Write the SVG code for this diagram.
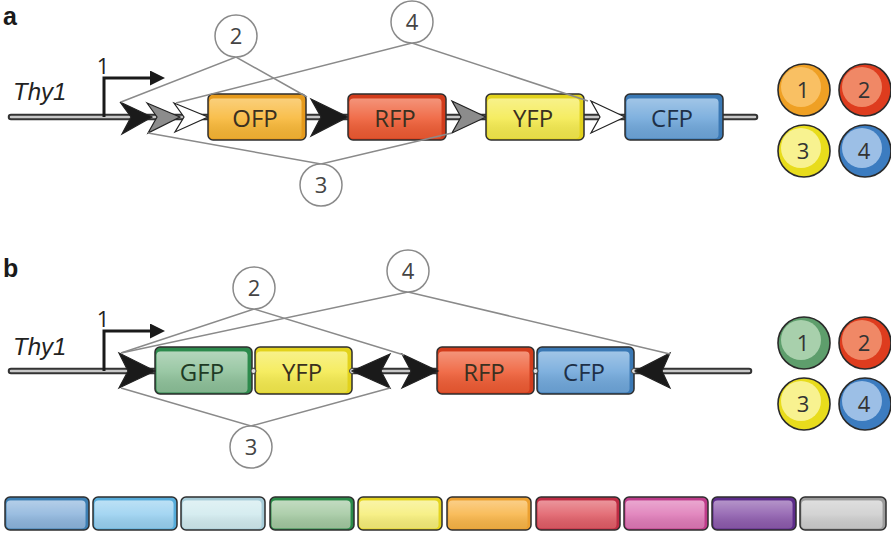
<svg xmlns="http://www.w3.org/2000/svg" width="891" height="535" viewBox="0 0 891 535">
<defs>
<linearGradient id="shine" x1="0" y1="0" x2="0" y2="1">
<stop offset="0" stop-color="#fff" stop-opacity="0.35"/>
<stop offset="0.5" stop-color="#fff" stop-opacity="0.12"/>
<stop offset="1" stop-color="#000" stop-opacity="0.06"/>
</linearGradient>
<marker id="prom" viewBox="0 0 10 10" refX="2" refY="5" markerWidth="5" markerHeight="5" orient="auto" markerUnits="strokeWidth">
<path d="M0,0 L10,5 L0,10 z" fill="#1a1a1a"/>
</marker>
</defs>
<style>
.lbl{font-family:"Liberation Sans",Arial,sans-serif;font-weight:bold;font-size:25px;fill:#1a1a1a}
.thy{font-family:"Liberation Sans",Arial,sans-serif;font-style:italic;font-size:24px;fill:#222}
.num{font-family:"Open Sans","Liberation Sans",sans-serif;font-size:22px;fill:#444;text-anchor:middle}
.gene{font-family:"Open Sans","Liberation Sans",sans-serif;font-size:24px;fill:#3a3020;text-anchor:middle}
.bb1{stroke:#333;stroke-width:6.5;stroke-linecap:round;fill:none}
.bb2{stroke:#c8c8c8;stroke-width:2.5;stroke-linecap:round;fill:none}
.prom{stroke:#1a1a1a;stroke-width:3;fill:none}
.con{stroke:#8a8a8a;stroke-width:1.5;fill:none}
.circ{fill:#fff;stroke:#8a8a8a;stroke-width:1.5}
.box{stroke:#2e2e2e;stroke-width:1.5}
.sh{fill:url(#shine)}
.chev{stroke:#222;stroke-width:1.2;stroke-linejoin:miter}
.dot{fill:#e0e0e0;stroke:#444;stroke-width:1}
.cc{stroke:#2a2a2a;stroke-width:1.6}
</style>

<!-- Panel a -->
<g id="label-a"><text class="lbl" x="3" y="25">a</text></g>
<g id="a-backbone">
<line class="bb1" x1="11" y1="117" x2="755" y2="117"/>
<line class="bb2" x1="11" y1="117" x2="755" y2="117"/>
</g>
<g id="a-thy1"><text class="thy" x="13" y="100">Thy1</text></g>
<g id="a-promoter">
<path class="prom" d="M104,117 V78 H153" marker-end="url(#prom)"/>
<text class="num" x="103" y="74" style="fill:#222">1</text>
</g>
<g id="a-lox">
<path class="chev" d="M120,102 L152,117 L122,134 L131,117 z" fill="#1a1a1a"/>
<path class="chev" d="M147,103 L180,117 L148,133 L157,117 z" fill="#8c8c8c"/>
<path class="chev" d="M174,103 L208,117 L175,132 L184,117 z" fill="#fff"/>
<path class="chev" d="M311,99 L348,117 L311,136 L321,117 z" fill="#1a1a1a"/>
<path class="chev" d="M452,101 L486,117 L452,133 L461,117 z" fill="#8c8c8c"/>
<path class="chev" d="M591,101 L625,117 L591,133 L600,117 z" fill="#fff"/>
</g>
<g id="a-OFP">
<rect class="box" x="208" y="94" width="98" height="46" rx="5" fill="#e69a1c"/>
<rect x="209.5" y="98.5" width="92" height="40" rx="4" fill="#f8b634"/>
<rect class="sh" x="209.5" y="98.5" width="92" height="40" rx="4"/>
<text class="gene" x="255" y="127">OFP</text>
</g>
<g id="a-RFP">
<rect class="box" x="348" y="94" width="98" height="46" rx="5" fill="#d23c1c"/>
<rect x="349.5" y="98.5" width="92" height="40" rx="4" fill="#ee5a32"/>
<rect class="sh" x="349.5" y="98.5" width="92" height="40" rx="4"/>
<text class="gene" x="395" y="127">RFP</text>
</g>
<g id="a-YFP">
<rect class="box" x="486" y="94" width="98" height="46" rx="5" fill="#e2d21c"/>
<rect x="487.5" y="98.5" width="92" height="40" rx="4" fill="#f4ea4c"/>
<rect class="sh" x="487.5" y="98.5" width="92" height="40" rx="4"/>
<text class="gene" x="533" y="127">YFP</text>
</g>
<g id="a-CFP">
<rect class="box" x="625" y="94" width="98" height="46" rx="5" fill="#3a78b4"/>
<rect x="626.5" y="98.5" width="92" height="40" rx="4" fill="#6ea6da"/>
<rect class="sh" x="626.5" y="98.5" width="92" height="40" rx="4"/>
<text class="gene" x="672" y="127" style="fill:#1e3048">CFP</text>
</g>
<g id="a-connectors">
<polyline class="con" points="121,102 236,57 307,97"/>
<polyline class="con" points="176,103 412,43 588,101"/>
<polyline class="con" points="148,133 321,164 452,133"/>
</g>
<g id="a-c2"><circle class="circ" cx="236" cy="36" r="21"/><text class="num" x="236" y="44">2</text></g>
<g id="a-c4"><circle class="circ" cx="412" cy="22" r="21"/><text class="num" x="412" y="30">4</text></g>
<g id="a-c3"><circle class="circ" cx="321" cy="185" r="21"/><text class="num" x="321" y="193">3</text></g>
<g id="a-colors">
<circle class="cc" cx="804" cy="90" r="26" fill="#efa024"/><circle cx="801" cy="87" r="20" fill="#f9c063"/><text class="num" x="803" y="98" style="fill:#333">1</text>
<circle class="cc" cx="865" cy="90" r="26" fill="#de3c1e"/><circle cx="862" cy="87" r="20" fill="#f08866"/><text class="num" x="864" y="98" style="fill:#333">2</text>
<circle class="cc" cx="804" cy="151" r="26" fill="#e8dc1c"/><circle cx="801" cy="148" r="20" fill="#f8f290"/><text class="num" x="803" y="159" style="fill:#333">3</text>
<circle class="cc" cx="865" cy="151" r="26" fill="#3c7cc0"/><circle cx="862" cy="148" r="20" fill="#9cbfe6"/><text class="num" x="864" y="159" style="fill:#333">4</text>
</g>

<!-- Panel b -->
<g id="label-b"><text class="lbl" x="3" y="277">b</text></g>
<g id="b-backbone">
<line class="bb1" x1="11" y1="371" x2="749" y2="371"/>
<line class="bb2" x1="11" y1="371" x2="749" y2="371"/>
</g>
<g id="b-thy1"><text class="thy" x="13" y="355">Thy1</text></g>
<g id="b-promoter">
<path class="prom" d="M104,371 V331 H153" marker-end="url(#prom)"/>
<text class="num" x="103" y="327" style="fill:#222">1</text>
</g>
<g id="b-GFP">
<rect class="box" x="155" y="347" width="97" height="47" rx="5" fill="#2c8a4c"/>
<rect x="156.5" y="351.5" width="91" height="41" rx="4" fill="#8cc098"/>
<rect class="sh" x="156.5" y="351.5" width="91" height="41" rx="4"/>
<text class="gene" x="202" y="381" style="fill:#1e3a24">GFP</text>
</g>
<g id="b-YFP">
<rect class="box" x="255" y="347" width="97" height="47" rx="5" fill="#e2d21c"/>
<rect x="256.5" y="351.5" width="91" height="41" rx="4" fill="#f4ea4c"/>
<rect class="sh" x="256.5" y="351.5" width="91" height="41" rx="4"/>
<text class="gene" x="302" y="381">YFP</text>
</g>
<g id="b-RFP">
<rect class="box" x="437" y="347" width="97" height="47" rx="5" fill="#d23c1c"/>
<rect x="438.5" y="351.5" width="91" height="41" rx="4" fill="#ee5a32"/>
<rect class="sh" x="438.5" y="351.5" width="91" height="41" rx="4"/>
<text class="gene" x="484" y="381">RFP</text>
</g>
<g id="b-CFP">
<rect class="box" x="537" y="347" width="97" height="47" rx="5" fill="#3a78b4"/>
<rect x="538.5" y="351.5" width="91" height="41" rx="4" fill="#6ea6da"/>
<rect class="sh" x="538.5" y="351.5" width="91" height="41" rx="4"/>
<text class="gene" x="584" y="381" style="fill:#1e3048">CFP</text>
</g>
<g id="b-junctions">
<circle class="dot" cx="253.5" cy="371" r="2.5"/>
<circle class="dot" cx="352" cy="371" r="2.5"/>
<circle class="dot" cx="535.5" cy="371" r="2.5"/>
<circle class="dot" cx="634" cy="371" r="2.5"/>
</g>
<g id="b-lox">
<path class="chev" d="M119,353 L155,371 L119,388 L128,371 z" fill="#1a1a1a"/>
<path class="chev" d="M390,354 L352,371 L390,388 L381,371 z" fill="#1a1a1a"/>
<path class="chev" d="M402,354 L438,371 L402,388 L411,371 z" fill="#1a1a1a"/>
<path class="chev" d="M670,353 L635,371 L670,388 L662,371 z" fill="#1a1a1a"/>
</g>
<g id="b-connectors">
<polyline class="con" points="121,353 254,309 404,355"/>
<polyline class="con" points="121,353 408,292 670,354"/>
<polyline class="con" points="121,388 251,426 390,388"/>
</g>
<g id="b-c2"><circle class="circ" cx="254" cy="288" r="21"/><text class="num" x="254" y="296">2</text></g>
<g id="b-c4"><circle class="circ" cx="408" cy="271" r="21"/><text class="num" x="408" y="279">4</text></g>
<g id="b-c3"><circle class="circ" cx="251" cy="447" r="21"/><text class="num" x="251" y="455">3</text></g>
<g id="b-colors">
<circle class="cc" cx="804" cy="343" r="26" fill="#5e9e6c"/><circle cx="801" cy="340" r="20" fill="#a8d0ac"/><text class="num" x="803" y="351" style="fill:#333">1</text>
<circle class="cc" cx="865" cy="343" r="26" fill="#de3c1e"/><circle cx="862" cy="340" r="20" fill="#f08866"/><text class="num" x="864" y="351" style="fill:#333">2</text>
<circle class="cc" cx="804" cy="404" r="26" fill="#e8dc1c"/><circle cx="801" cy="401" r="20" fill="#f8f290"/><text class="num" x="803" y="412" style="fill:#333">3</text>
<circle class="cc" cx="865" cy="404" r="26" fill="#3c7cc0"/><circle cx="862" cy="401" r="20" fill="#9cbfe6"/><text class="num" x="864" y="412" style="fill:#333">4</text>
</g>

<!-- Palette -->
<g id="palette">
<g><rect class="box" x="5" y="497" width="84" height="33" rx="5" fill="#3c7eb2"/><rect x="6.5" y="500.5" width="79" height="28" rx="4" fill="#8cb4dc"/><rect class="sh" x="6.5" y="500.5" width="79" height="28" rx="4"/></g>
<g><rect class="box" x="93" y="497" width="84" height="33" rx="5" fill="#56acda"/><rect x="94.5" y="500.5" width="79" height="28" rx="4" fill="#98d0f0"/><rect class="sh" x="94.5" y="500.5" width="79" height="28" rx="4"/></g>
<g><rect class="box" x="181" y="497" width="84" height="33" rx="5" fill="#a6ccd8"/><rect x="182.5" y="500.5" width="79" height="28" rx="4" fill="#d0eaee"/><rect class="sh" x="182.5" y="500.5" width="79" height="28" rx="4"/></g>
<g><rect class="box" x="270" y="497" width="84" height="33" rx="5" fill="#2a8a48"/><rect x="271.5" y="500.5" width="79" height="28" rx="4" fill="#a2c8a0"/><rect class="sh" x="271.5" y="500.5" width="79" height="28" rx="4"/></g>
<g><rect class="box" x="358" y="497" width="84" height="33" rx="5" fill="#e4d41e"/><rect x="359.5" y="500.5" width="79" height="28" rx="4" fill="#f6ee78"/><rect class="sh" x="359.5" y="500.5" width="79" height="28" rx="4"/></g>
<g><rect class="box" x="447" y="497" width="84" height="33" rx="5" fill="#eca030"/><rect x="448.5" y="500.5" width="79" height="28" rx="4" fill="#f8b446"/><rect class="sh" x="448.5" y="500.5" width="79" height="28" rx="4"/></g>
<g><rect class="box" x="536" y="497" width="84" height="33" rx="5" fill="#be2c44"/><rect x="537.5" y="500.5" width="79" height="28" rx="4" fill="#e05c66"/><rect class="sh" x="537.5" y="500.5" width="79" height="28" rx="4"/></g>
<g><rect class="box" x="624" y="497" width="84" height="33" rx="5" fill="#be3c8a"/><rect x="625.5" y="500.5" width="79" height="28" rx="4" fill="#de78b6"/><rect class="sh" x="625.5" y="500.5" width="79" height="28" rx="4"/></g>
<g><rect class="box" x="712" y="497" width="84" height="33" rx="5" fill="#5c2c8a"/><rect x="713.5" y="500.5" width="79" height="28" rx="4" fill="#8c5aac"/><rect class="sh" x="713.5" y="500.5" width="79" height="28" rx="4"/></g>
<g><rect class="box" x="800" y="497" width="86" height="33" rx="5" fill="#9c9c9c"/><rect x="801.5" y="500.5" width="81" height="28" rx="4" fill="#cdcdcd"/><rect class="sh" x="801.5" y="500.5" width="81" height="28" rx="4"/></g>
</g>
</svg>
